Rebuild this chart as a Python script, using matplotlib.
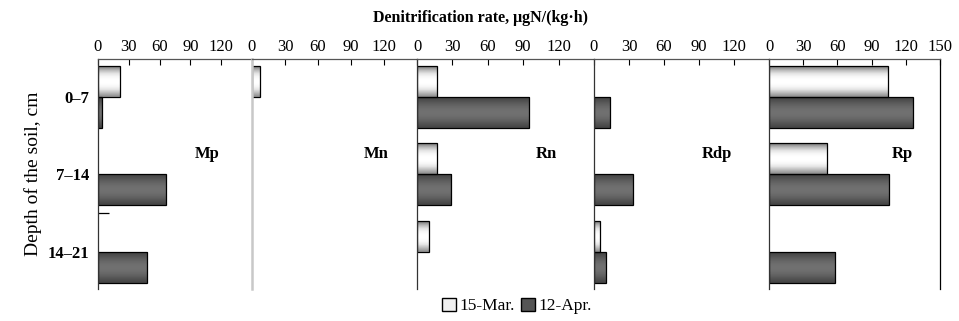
import numpy as np
import matplotlib
matplotlib.use('Agg')
import matplotlib.pyplot as plt
from matplotlib.patches import Patch

plt.rcParams['font.family'] = ['Liberation Serif', 'DejaVu Serif']

depths = ['0\u20137', '7\u201314', '14\u201321']
sites = ['Mp', 'Mn', 'Rn', 'Rdp', 'Rp']
# 15-Mar and 12-Apr values per site (top to bottom depth)
mar15 = {'Mp': [21, 0, 0], 'Mn': [7, 0, 0], 'Rn': [17, 17, 10], 'Rdp': [0, 0, 5], 'Rp': [104, 51, 0]}
apr12 = {'Mp': [4, 66, 48], 'Mn': [0, 0, 0], 'Rn': [95, 29, 0], 'Rdp': [14, 33, 10], 'Rp': [126, 105, 58]}
ticks = [0, 30, 60, 90, 120]

W, H = 959, 321
fig = plt.figure(figsize=(W / 100, H / 100), dpi=100)

edges = [98, 252, 417, 594, 769, 940]
label_x = [0.71, 0.75, 0.73, 0.70, 0.78]
top, bottom = 59, 289
y = np.arange(len(depths))
bh = 0.4

# vertical shading profiles for the bars (top -> bottom)
light_grad = np.array([0.55, 0.75, 0.9, 0.97, 1.0, 1.0, 0.97, 0.9, 0.75, 0.6])[:, None]
dark_grad = np.array([0.28, 0.33, 0.38, 0.42, 0.44, 0.44, 0.42, 0.38, 0.33, 0.28])[:, None]


def shaded(ax, bars, grad):
    for b in bars:
        w = b.get_width()
        if w <= 0:
            continue
        yb = b.get_y()
        im = ax.imshow(grad, cmap='gray', vmin=0, vmax=1, aspect='auto',
                       extent=(0, w, yb + b.get_height(), yb), interpolation='bilinear', zorder=1.5)
        im.set_clip_path(b)


for i, s in enumerate(sites):
    x0, x1 = edges[i], edges[i + 1]
    ax = fig.add_axes([x0 / W, 1 - bottom / H, (x1 - x0) / W, (bottom - top) / H])
    m = mar15[s]
    a = apr12[s]
    b1 = ax.barh(y - bh / 2, m, height=bh, color='#e6e6e6', edgecolor='none')
    b2 = ax.barh(y + bh / 2, a, height=bh, color='#555555', edgecolor='none')
    shaded(ax, b1, light_grad)
    shaded(ax, b2, dark_grad)
    for b in list(b1) + list(b2):
        if b.get_width() > 0:
            ax.add_patch(plt.Rectangle((0, b.get_y()), b.get_width(), b.get_height(),
                                       fill=False, edgecolor='black', linewidth=0.9, zorder=2))
    ax.set_xlim(0, 150)
    ax.set_ylim(2.48, -0.49)
    ax.xaxis.tick_top()
    if i == len(sites) - 1:
        ax.set_xticks(ticks + [150])
    else:
        ax.set_xticks(ticks)
    ax.tick_params(axis='x', direction='in', length=4, labelsize=12, pad=3, width=0.8)
    ax.spines['bottom'].set_visible(False)
    ax.spines['right'].set_visible(i == len(sites) - 1)
    ax.spines['top'].set_color('#555555')
    for sp in ax.spines.values():
        sp.set_linewidth(0.9)
    if s == 'Mn':
        ax.spines['left'].set_color('#c8c8c8')
        ax.spines['left'].set_linewidth(1.8)
    else:
        ax.spines['left'].set_color('#333333')
    if i == 0:
        ax.set_yticks(y)
        ax.set_yticklabels(depths, fontsize=12, fontweight='bold')
        ax.set_yticks([1.5], minor=True)
        ax.tick_params(axis='y', which='major', length=0, pad=6)
        ax.tick_params(axis='y', which='minor', direction='in', length=8, width=0.9)
        ax.set_ylabel('Depth of the soil, cm', fontsize=14, labelpad=4)
    else:
        ax.set_yticks([])
    ax.text(label_x[i], 0.585, s, transform=ax.transAxes, ha='center', va='center',
            fontsize=12, fontweight='bold')
    ax.patch.set_alpha(0)

fig.text(480 / W, 1 - 18 / H, 'Denitrification rate, \u03bcgN/(kg\u00b7h)', ha='center',
         va='center', fontsize=11.5, fontweight='bold')

handles = [Patch(facecolor='#f0f0f0', edgecolor='black', label='15-Mar.'),
           Patch(facecolor='#555555', edgecolor='black', label='12-Apr.')]
fig.legend(handles=handles, loc='center', bbox_to_anchor=(517 / W, 1 - 306 / H), ncol=2,
           frameon=False, fontsize=12.5, handlelength=0.8, handleheight=0.8,
           handletextpad=0.2, columnspacing=0.4)

fig.savefig('out.png', dpi=100)
